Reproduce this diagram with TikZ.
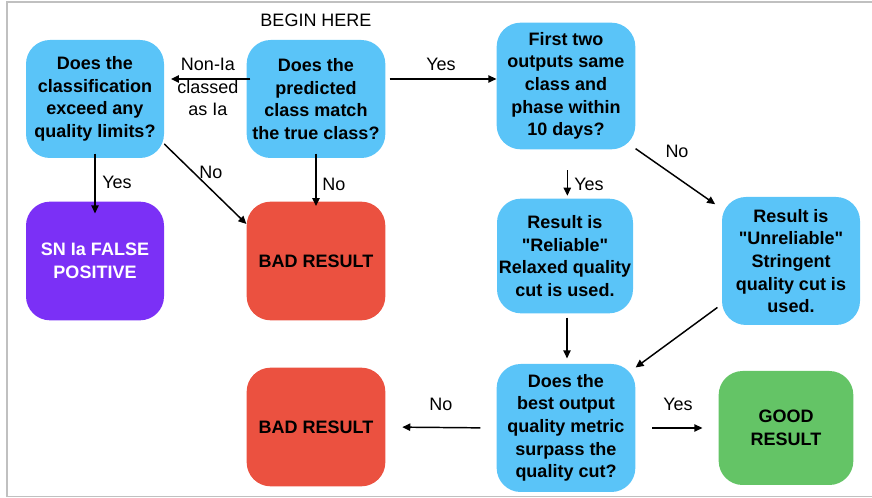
\documentclass[tikz,border=0pt]{standalone}
\usepackage{fontspec}
\setmainfont{Liberation Sans}[Ligatures=TeXOff]
\usetikzlibrary{arrows.meta}
\definecolor{boxblue}{HTML}{5AC4F8}
\definecolor{boxpurple}{HTML}{7B30F6}
\definecolor{boxred}{HTML}{EB5140}
\definecolor{boxgreen}{HTML}{64C466}
\definecolor{framegray}{HTML}{C0C0C0}
\newcommand{\dq}{\symbol{"22}}
\tikzset{
  flowbox/.style={rectangle, rounded corners=18pt, inner sep=0pt, align=center,
    font=\fontsize{13.5}{17}\selectfont\bfseries},
  bluebox/.style={flowbox, fill=boxblue, text=black},
  redbox/.style={flowbox, fill=boxred, text=black},
  purplebox/.style={flowbox, fill=boxpurple, text=white},
  greenbox/.style={flowbox, fill=boxgreen, text=black},
  lbl/.style={inner sep=0pt, align=center, font=\fontsize{13.5}{17}\selectfont},
  arr/.style={-{Triangle[length=6pt,width=5.5pt]}, line width=1.1pt, black},
}
\begin{document}
\begin{tikzpicture}[x=0.75pt,y=-0.75pt]
\useasboundingbox (0,0) rectangle (872,498);
\draw[framegray, line width=0.8pt] (872,2) -- (7,2) -- (7,496.5) -- (872,496.5);

\node[bluebox, minimum width=103.5pt, minimum height=88.5pt] (A) at (95,99)
  {Does the\\classification\\exceed any\\quality limits?};
\node[bluebox, minimum width=104pt, minimum height=88.5pt] (B) at (316,99)
  {Does the\\predicted\\class match\\the true class?};
\node[bluebox, minimum width=104pt, minimum height=95pt] (C) at (566,86)
  {First two\\outputs same\\class and\\phase within\\10 days?};
\node[purplebox, minimum width=103.5pt, minimum height=89pt] (D) at (95,261)
  {SN Ia FALSE\\POSITIVE};
\node[redbox, minimum width=104pt, minimum height=89pt] (E) at (316,261)
  {BAD RESULT};
\node[redbox, minimum width=104pt, minimum height=89pt] (F) at (316,427)
  {BAD RESULT};
\node[bluebox, minimum width=102pt, minimum height=86pt] (G) at (565,256)
  {Result is\\\dq Reliable\dq\\Relaxed quality\\cut is used.};
\node[bluebox, minimum width=103.5pt, minimum height=96pt] (H) at (791,261)
  {Result is\\\dq Unreliable\dq\\Stringent\\quality cut is\\used.};
\node[bluebox, minimum width=104pt, minimum height=96pt] (I) at (566,428)
  {Does the\\best output\\quality metric\\surpass the\\quality cut?};
\node[greenbox, minimum width=101pt, minimum height=85.5pt] (J) at (786,428)
  {GOOD\\RESULT};

\node[lbl] (begin) at (316,20) {BEGIN HERE};
\node[lbl] (lnonia) at (208,87) {Non-Ia\\classed\\as Ia};
\node[lbl] (lyesbc) at (441,64) {Yes};
\node[lbl] (lyesad) at (117,182) {Yes};
\node[lbl] (lnoae) at (211,172) {No};
\node[lbl] (lnobe) at (334,184) {No};
\node[lbl] (lyescg) at (589,184) {Yes};
\node[lbl] (lnoch) at (677,151) {No};
\node[lbl] (lnoif) at (441,404) {No};
\node[lbl] (lyesij) at (678,404) {Yes};

\coordinate (ba) at ([yshift=15pt]B.west);
\coordinate (bc) at ([yshift=15pt]B.east);
\draw[arr, shorten <=-3pt, shorten >=5pt] (ba) -- (ba -| A.east);
\draw[arr, shorten <=3pt] (bc) -- (bc -| C.west);
\draw[arr, shorten <=-3.5pt, shorten >=-9pt] (A.south) -- (D.north);
\draw[arr] (A.-33) -- (E.152);
\draw[arr, shorten <=-3.5pt, shorten >=-3.5pt] (B.south) -- (E.north);
\draw[arr, shorten <=15.5pt, shorten >=2pt] ([xshift=1pt]C.south) -- ([xshift=1pt]C.south |- G.north);
\draw[arr, shorten >=6pt] (C.-42) -- (H.143);
\draw[arr, shorten <=3pt, shorten >=4pt] ([xshift=1.5pt]G.south) -- ([xshift=1.5pt]G.south |- I.north);
\draw[arr, shorten <=4pt] (H.-148) -- (I.41);
\draw[arr, shorten <=12pt, shorten >=12.5pt] (I.west) -- (F.east);
\draw[arr, shorten <=12.5pt, shorten >=12pt] (I.east) -- (J.west);
\end{tikzpicture}
\end{document}
